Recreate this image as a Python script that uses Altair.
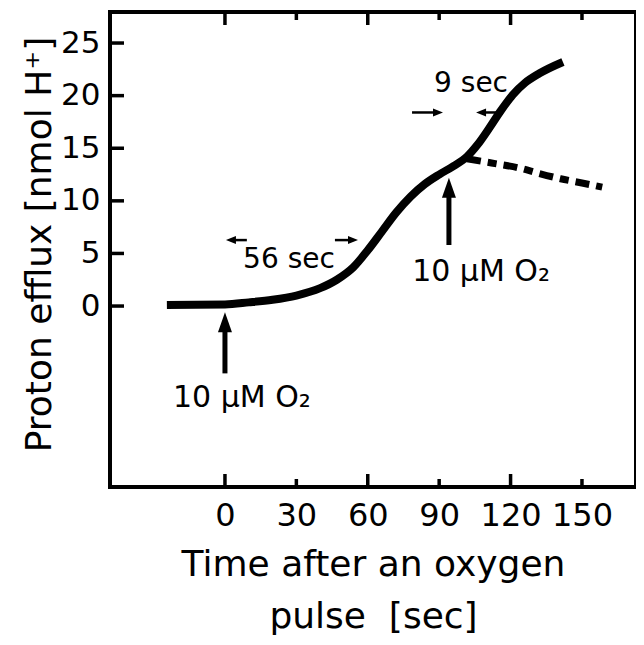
import altair as alt
import pandas as pd

# ---- data ----
time_solid = [-24.4, 0, 10, 20, 30, 40, 47, 54, 60, 66, 72, 78, 84, 90, 96,
              101.7, 106, 111, 116, 121, 126, 132, 142]
efflux_solid = [0.1, 0.15, 0.35, 0.6, 1.0, 1.7, 2.5, 3.7, 5.3, 7.1, 8.9, 10.4,
                11.6, 12.5, 13.3, 14.2, 15.3, 16.9, 18.6, 20.1, 21.2, 22.1, 23.2]

time_dashed = [101.7, 112, 124, 132, 141, 150, 158.5]
efflux_dashed = [14.0, 13.6, 13.1, 12.6, 12.1, 11.7, 11.3]

# vertical arrows (oxygen pulses)
pulse_t = [0, 94.1]
pulse_base = [-6.4, 5.8]
pulse_tip = [-0.6, 12.2]

# small horizontal arrows marking the time spans
span_tail = [9.2, 46.2, 78.6, 114.7]
span_tip = [0.4, 55.9, 91.6, 105.5]
span_y = [6.27, 6.27, 18.4, 18.4]

# labels
pulse_labels = ["10 µM O₂", "10 µM O₂"]
pulse_label_t = [7.1, 107.6]
pulse_label_y = [-8.7, 3.2]
span_labels = ["56 sec", "9 sec"]
span_label_t = [26.9, 103.4]
span_label_y = [4.4, 21.15]

x_ticks = [0, 30, 60, 90, 120, 150]
x_major = [0, 60, 120]
x_minor = [30, 90, 150]
y_ticks = [0, 5, 10, 15, 20, 25]

x_domain = [-48.3, 172.7]
y_domain = [-17.2, 27.95]

W, H = 526, 475
FONT = "DejaVu Sans"
NB = "\u00a0"

# ---- tables ----
solid = pd.DataFrame({"t": time_solid, "v": efflux_solid})
dashed = pd.DataFrame({"t": time_dashed, "v": efflux_dashed})
pulses = pd.DataFrame({"t": pulse_t, "v": pulse_base,
                       "v2": [tp - 1.0 for tp in pulse_tip], "tip": pulse_tip})
spans = pd.DataFrame({
    "t": span_tail,
    "t2": [tp + (2.0 if tp < tl else -2.0) for tp, tl in zip(span_tip, span_tail)],
    "tip": span_tip,
    "v": span_y,
    "dir": ["left" if tp < tl else "right" for tp, tl in zip(span_tip, span_tail)],
})
plabels = pd.DataFrame({"t": pulse_label_t, "v": pulse_label_y, "txt": pulse_labels})
slabels = pd.DataFrame({"t": span_label_t, "v": span_label_y, "txt": span_labels})
xmaj = pd.DataFrame({"t": x_major})
xmin = pd.DataFrame({"t": x_minor})
yt = pd.DataFrame({"v": y_ticks})

xscale = alt.Scale(domain=x_domain, nice=False, zero=False)
yscale = alt.Scale(domain=y_domain, nice=False, zero=False)

x_axis = alt.Axis(
    values=x_ticks, labelFontSize=32, labelPadding=13, labelFont=FONT,
    title=["Time after an oxygen", "pulse" + NB * 2 + "[sec]" + NB * 3],
    titleFontSize=36, titleFont=FONT, titleY=88, titleBaseline="alphabetic",
    titleLineHeight=52,
)
y_axis = alt.Axis(
    values=y_ticks, labelFontSize=31, labelPadding=10, labelFont=FONT,
    title="Proton efflux [nmol H⁺]", titleFontSize=36, titleFont=FONT,
    titleAngle=-90, titleX=-60, titleY=232, titleBaseline="alphabetic",
    titleAlign="center",
)

X = alt.X("t:Q", scale=xscale, axis=x_axis)
Y = alt.Y("v:Q", scale=yscale, axis=y_axis)
X_tip = alt.X("tip:Q", scale=xscale, axis=x_axis)
Y_tip = alt.Y("tip:Q", scale=yscale, axis=y_axis)

solid_line = alt.Chart(solid).mark_line(
    color="black", strokeWidth=8, interpolate="monotone", strokeCap="butt"
).encode(x=X, y=Y)

dashed_line = alt.Chart(dashed).mark_line(
    color="black", strokeWidth=7, interpolate="monotone", strokeDash=[14, 7, 9, 7]
).encode(x=X, y=Y)

pulse_shaft = alt.Chart(pulses).mark_rule(color="black", strokeWidth=5).encode(
    x=X, y=Y, y2="v2:Q")

pulse_head = alt.Chart(pulses).mark_point(
    shape="M0,0L0.7,2L-0.7,2Z", filled=True, color="black", opacity=1, size=400
).encode(x=X, y=Y_tip)

span_shaft = alt.Chart(spans).mark_rule(color="black", strokeWidth=2.5).encode(
    x=X, x2="t2:Q", y=Y)

span_head = alt.Chart(spans).mark_point(
    filled=True, color="black", opacity=1, size=100
).encode(
    x=X_tip, y=Y,
    shape=alt.Shape("dir:N", scale=alt.Scale(
        domain=["left", "right"],
        range=["M0,0L2,-0.8L2,0.8Z", "M0,0L-2,-0.8L-2,0.8Z"]), legend=None),
)

pulse_text = alt.Chart(plabels).mark_text(
    font=FONT, fontSize=30, color="black", align="center", baseline="middle"
).encode(x=X, y=Y, text="txt:N")

span_text = alt.Chart(slabels).mark_text(
    font=FONT, fontSize=28, color="black", align="center", baseline="middle"
).encode(x=X, y=Y, text="txt:N")

tick_style = dict(color="black", strokeWidth=3.5)
bottom_major = alt.Chart(xmaj).mark_rule(**tick_style).encode(
    x=X, y=alt.value(H), y2=alt.value(H - 13))
bottom_minor = alt.Chart(xmin).mark_rule(**tick_style).encode(
    x=X, y=alt.value(H), y2=alt.value(H - 8))
top_major = alt.Chart(xmaj).mark_rule(**tick_style).encode(
    x=X, y=alt.value(0), y2=alt.value(13))
top_minor = alt.Chart(xmin).mark_rule(**tick_style).encode(
    x=X, y=alt.value(0), y2=alt.value(8))
left_ticks = alt.Chart(yt).mark_rule(**tick_style).encode(
    y=Y, x=alt.value(0), x2=alt.value(14))

chart = alt.layer(
    solid_line, dashed_line, pulse_shaft, pulse_head, span_shaft, span_head,
    pulse_text, span_text, bottom_major, bottom_minor, top_major, top_minor,
    left_ticks,
).properties(
    width=W, height=H,
    padding={"left": 102, "top": 4, "right": 0, "bottom": 150},
    autosize=alt.AutoSizeParams(type="none"),
).configure_view(
    stroke="black", strokeWidth=4
).configure_axis(
    grid=False, domain=False, ticks=False, labelColor="black",
    titleColor="black", titleFontWeight="normal",
)

chart.save("out.html", embed_options={"renderer": "svg", "actions": False})
